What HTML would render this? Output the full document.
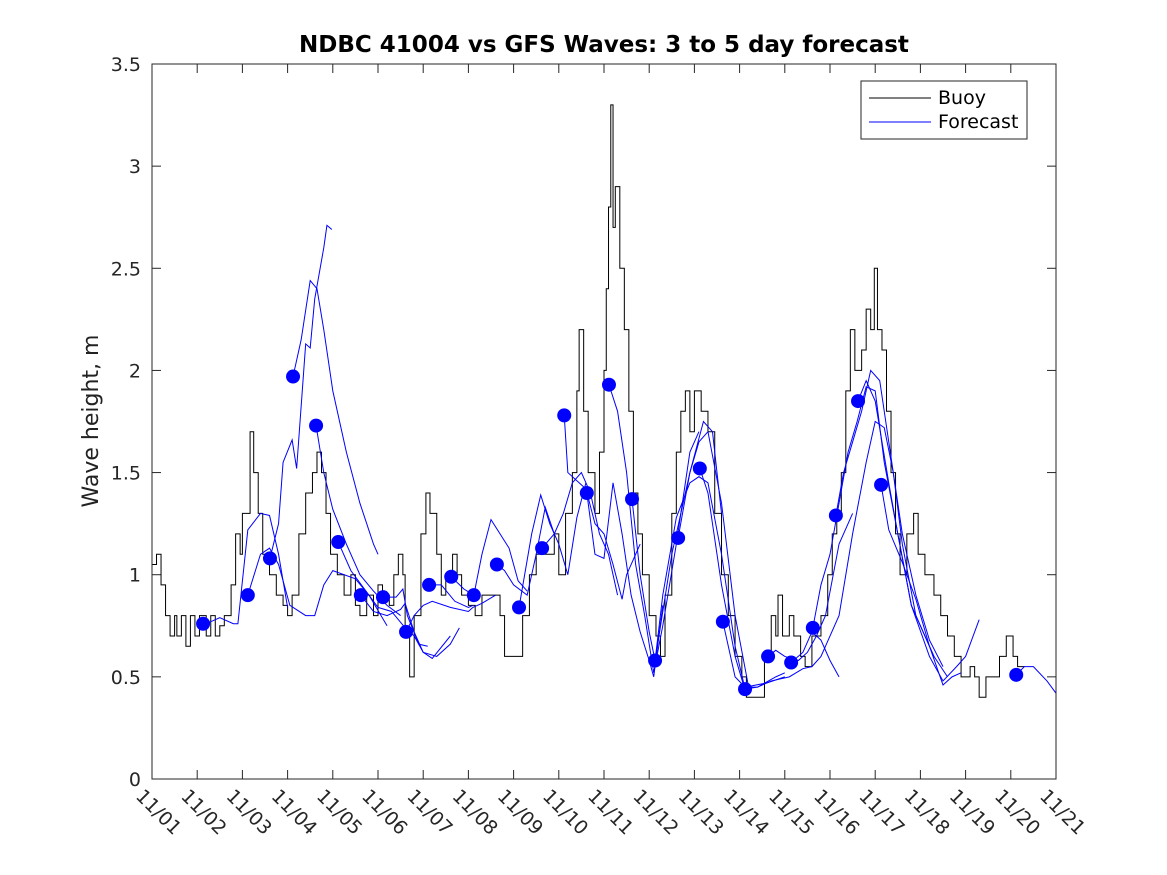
<!DOCTYPE html>
<html><head><meta charset="utf-8"><style>
html,body{margin:0;padding:0;background:#fff}
svg{display:block;font-family:"DejaVu Sans","Liberation Sans",sans-serif}
</style></head><body>
<svg id="chart" width="1167" height="875" viewBox="0 0 1167 875">
<rect x="0" y="0" width="1167" height="875" fill="#fff"/>
<text x="604" y="52" text-anchor="middle" font-size="23" font-weight="bold" fill="#000">NDBC 41004 vs GFS Waves: 3 to 5 day forecast</text>
<text transform="translate(98,421) rotate(-90)" text-anchor="middle" font-size="22" fill="#222">Wave height, m</text>
<g id="grid"></g>
<g id="series"></g>
<rect x="152" y="64" width="904" height="715" fill="none" stroke="#262626" stroke-width="1"/>
<g>
<rect x="861" y="81" width="166" height="58" fill="#fff" stroke="#262626"/>
<line x1="869" y1="98" x2="931" y2="98" stroke="#000"/>
<text x="938" y="104" font-size="19" fill="#000">Buoy</text>
<line x1="869" y1="122" x2="931" y2="122" stroke="#0000ff"/>
<text x="938" y="128" font-size="19" fill="#000">Forecast</text>
</g>
</svg>
<script>
const xTickLabels = ["11/01","11/02","11/03","11/04","11/05","11/06","11/07","11/08","11/09","11/10","11/11","11/12","11/13","11/14","11/15","11/16","11/17","11/18","11/19","11/20","11/21"];
const yTicks = [0,0.5,1,1.5,2,2.5,3,3.5];
const yTickLabels = ["0","0.5","1","1.5","2","2.5","3","3.5"];
const buoyDays = [0,0.1,0.2,0.3,0.4,0.5,0.55,0.65,0.75,0.85,0.95,1.05,1.2,1.3,1.4,1.5,1.6,1.75,1.85,1.95,2.0,2.1,2.17,2.25,2.35,2.45,2.6,2.75,2.9,3.0,3.1,3.25,3.4,3.55,3.65,3.75,3.85,3.95,4.1,4.25,4.4,4.5,4.6,4.75,4.9,5.0,5.1,5.25,5.35,5.45,5.55,5.6,5.7,5.8,5.95,6.06,6.15,6.3,6.4,6.5,6.65,6.75,6.85,7.0,7.15,7.3,7.5,7.7,7.8,8.0,8.2,8.35,8.5,8.7,8.9,9.0,9.15,9.3,9.4,9.45,9.55,9.65,9.8,9.9,10.0,10.05,10.1,10.15,10.2,10.25,10.35,10.45,10.55,10.65,10.75,10.85,11.0,11.15,11.25,11.35,11.5,11.6,11.7,11.8,11.9,12.0,12.15,12.3,12.45,12.6,12.75,12.9,13.05,13.15,13.4,13.55,13.7,13.8,13.85,13.95,14.1,14.2,14.35,14.45,14.6,14.8,14.95,15.05,15.15,15.25,15.35,15.45,15.55,15.7,15.8,15.9,15.98,16.05,16.15,16.25,16.35,16.45,16.55,16.7,16.85,16.95,17.1,17.3,17.45,17.6,17.75,17.9,18.1,18.2,18.3,18.45,18.6,18.75,18.9,19.05,19.15,19.3];
const buoyVals = [1.05,1.1,0.95,0.8,0.7,0.8,0.7,0.8,0.65,0.8,0.7,0.8,0.7,0.8,0.7,0.75,0.8,0.95,1.2,1.1,1.3,1.3,1.7,1.5,1.3,1.1,1.0,0.9,0.85,0.8,0.9,1.2,1.4,1.5,1.6,1.5,1.3,1.1,1.0,0.9,1.0,0.85,0.8,0.9,0.8,0.95,0.9,0.85,1.0,1.1,1.0,0.7,0.5,0.8,1.2,1.4,1.3,1.1,0.9,1.0,1.1,1.0,0.9,0.85,0.8,0.9,0.9,0.8,0.6,0.6,0.8,1.0,1.1,1.1,1.2,1.0,1.3,1.5,1.9,2.2,1.8,1.5,1.3,1.6,2.0,2.4,2.8,3.3,2.7,2.9,2.5,2.2,1.8,1.4,1.2,1.0,0.8,0.7,0.6,0.9,1.3,1.6,1.8,1.9,1.7,1.9,1.8,1.7,1.3,1.0,0.8,0.6,0.5,0.4,0.4,0.6,0.8,0.7,0.9,0.7,0.8,0.7,0.6,0.55,0.7,0.8,1.0,1.2,1.3,1.5,1.9,2.2,2.0,2.1,2.3,2.2,2.5,2.2,2.1,1.8,1.5,1.2,1.0,1.2,1.3,1.1,1.0,0.9,0.8,0.7,0.6,0.5,0.55,0.5,0.4,0.5,0.5,0.6,0.7,0.6,0.55,0.55];
const dotDays = [1.13,2.12,2.61,3.12,3.63,4.12,4.62,5.11,5.62,6.13,6.62,7.12,7.63,8.12,8.63,9.12,9.62,10.11,10.62,11.13,11.64,12.12,12.63,13.12,13.63,14.14,14.62,15.13,15.62,16.13,19.12];
const dotVals = [0.76,0.90,1.08,1.97,1.73,1.16,0.90,0.89,0.72,0.95,0.99,0.90,1.05,0.84,1.13,1.78,1.40,1.93,1.37,0.58,1.18,1.52,0.77,0.44,0.60,0.57,0.74,1.29,1.85,1.44,0.51];
const fcDays = [
 [1.13,1.3,1.5,1.8,1.9,2.12,2.4,2.6,2.8,3.0],
 [2.12,2.4,2.6,2.8,3.05,3.4,3.6,3.8,4.0,4.5,4.8,5.2],
 [2.61,2.8,2.9,3.1,3.2,3.4,3.5,3.6,3.8,3.87,3.98],
 [3.12,3.3,3.5,3.65,3.8,4.0,4.3,4.6,4.9,5.0],
 [3.63,3.8,4.0,4.3,4.6,4.9,5.2,5.5],
 [4.12,4.4,4.7,5.0,5.3,5.6,5.8,6.0,6.3,6.6,6.8],
 [4.62,4.9,5.2,5.5,5.6,5.8,6.0,6.2,6.6],
 [5.11,5.4,5.55,5.65,5.9,6.1],
 [5.62,5.8,6.0,6.2,6.6,7.0,7.1,7.3,7.6],
 [6.13,6.4,6.7,7.0,7.1],
 [6.62,6.9,7.12],
 [7.12,7.3,7.5,7.7,7.9,8.1,8.3],
 [7.63,7.8,8.0,8.3,8.5,8.7,8.9],
 [8.12,8.4,8.6,8.8,9.0,9.2,9.4,9.6],
 [8.63,8.9,9.1,9.3,9.5,9.7,9.9,10.1,10.3],
 [9.12,9.2,9.4,9.6,9.8,10.0,10.2,10.4,10.5,10.8],
 [9.62,9.8,10.0,10.2,10.4,10.6,10.8,11.0,11.1,11.3],
 [10.11,10.3,10.5,10.7,10.9,11.1,11.3,11.6,11.9,12.1],
 [10.62,10.8,11.0,11.13,11.5,11.9,12.2,12.4,12.6],
 [11.13,11.3,11.6,11.9,12.1,12.3,12.6,12.9,13.1],
 [11.64,11.9,12.1,12.3,12.6,12.9,13.2],
 [12.12,12.3,12.6,12.9,13.1,13.4,13.8,14.0],
 [12.63,12.9,13.12,13.6,14.0],
 [13.12,13.4,13.7,14.1,14.4,14.6],
 [13.63,13.8,14.0,14.3,14.5,14.7,14.9,15.2,15.5],
 [14.14,14.4,14.6,14.8,15.0,15.2],
 [14.62,14.8,15.0,15.2,15.4,15.6,15.8,16.0,16.2,16.5,16.8,17.0,17.3],
 [15.13,15.3,15.5,15.7,15.9,16.1,16.4,16.6,16.9,17.3,17.6],
 [15.62,15.8,16.0,16.3,16.5,16.8,17.2,17.5,17.8,18.0,18.3],
 [16.13,16.3,16.6,16.9,17.2,17.5,17.7,17.9],
 [14.6,14.8,15.2,15.5,15.8,16.0,16.2,16.4,16.6,16.9,17.2,17.5],
 [19.12,19.3,19.5,19.8,20.0]
];
const fcVals = [
 [0.76,0.77,0.79,0.76,0.76,1.22,1.30,1.29,1.10,0.84],
 [0.90,1.10,1.13,1.05,0.85,0.80,0.80,0.95,1.02,0.98,0.90,0.75],
 [1.08,1.25,1.55,1.66,1.52,2.13,2.11,2.35,2.60,2.71,2.69],
 [1.97,2.15,2.44,2.40,2.20,1.90,1.60,1.35,1.15,1.10],
 [1.73,1.50,1.32,1.15,1.00,0.92,0.85,0.80],
 [1.16,1.02,0.93,0.84,0.82,0.74,0.70,0.62,0.60,0.66,0.74],
 [0.90,0.82,0.80,0.83,0.86,0.72,0.62,0.59,0.70],
 [0.89,0.89,0.93,0.80,0.66,0.65],
 [0.72,0.80,0.85,0.87,0.84,0.82,0.84,0.86,0.90],
 [0.95,0.95,0.87,0.84,0.85],
 [0.99,0.93,0.90],
 [0.90,1.10,1.27,1.20,1.13,0.97,0.92],
 [1.05,1.02,0.95,0.90,1.10,1.33,1.20],
 [0.84,1.20,1.39,1.25,1.15,1.00,1.28,1.45],
 [1.13,1.20,1.30,1.45,1.50,1.40,1.20,1.10,0.90],
 [1.78,1.50,1.46,1.42,1.25,1.20,1.05,0.88,1.00,1.15],
 [1.40,1.10,1.08,1.45,1.20,0.90,0.72,0.58,0.50,0.85],
 [1.93,1.80,1.50,1.05,0.80,0.52,0.75,1.15,1.60,1.70],
 [1.37,1.00,0.72,0.58,1.10,1.50,1.75,1.70,1.30],
 [0.58,0.90,1.28,1.45,1.48,1.45,1.10,0.65,0.46],
 [1.18,1.50,1.65,1.70,1.35,0.80,0.45],
 [1.52,1.40,0.95,0.60,0.45,0.45,0.50,0.52],
 [0.77,0.50,0.45,0.47,0.50],
 [0.44,0.45,0.48,0.50,0.54,0.55],
 [0.60,0.63,0.60,0.58,0.62,0.70,0.80,1.15,1.30],
 [0.57,0.62,0.72,0.68,0.58,0.50],
 [0.74,0.95,1.10,1.35,1.60,1.75,1.92,1.90,1.55,1.20,0.85,0.75,0.60],
 [1.29,1.50,1.65,1.80,2.00,1.95,1.50,1.15,0.80,0.60,0.50],
 [1.85,1.95,1.85,1.45,1.20,0.85,0.60,0.48,0.55,0.60,0.78],
 [1.44,1.22,1.06,0.88,0.65,0.46,0.50,0.52],
 [0.55,0.60,0.80,1.20,1.55,1.75,1.72,1.50,1.20,0.90,0.68,0.55],
 [0.51,0.55,0.55,0.48,0.42]
];
const X0=152, X1=1056, Y0=779, Y1=64, DAYS=20, YMAX=3.5;
function xs(d){return X0+(X1-X0)*d/DAYS;}
function ys(v){return Y0-(Y0-Y1)*v/YMAX;}
const NS="http://www.w3.org/2000/svg";
const grid=document.getElementById('grid');
const series=document.getElementById('series');
function mk(tag,attrs,parent){const e=document.createElementNS(NS,tag);for(const k in attrs)e.setAttribute(k,attrs[k]);parent.appendChild(e);return e;}
xTickLabels.forEach((lab,i)=>{
  const x=xs(i);
  const t1=mk('line',{x1:x,y1:Y0,x2:x,y2:Y0-9,stroke:'#262626'},grid);
  
  
  const t2=mk('line',{x1:x,y1:Y1,x2:x,y2:Y1+9,stroke:'#262626'},grid);
  
  
  const tx=mk('text',{transform:`translate(${x-8},${788}) rotate(45)`,x:0,y:13,'font-size':19,fill:'#262626'},grid);
  tx.textContent=lab;
  
  
});
yTicks.forEach((v,i)=>{
  const y=ys(v);
  const t1=mk('line',{x1:X0,y1:y,x2:X0+9,y2:y,stroke:'#262626'},grid);
  
  
  const t2=mk('line',{x1:X1,y1:y,x2:X1-9,y2:y,stroke:'#262626'},grid);
  
  
  const tx=mk('text',{x:141,y:y+7,'text-anchor':'end','font-size':19,fill:'#262626'},grid);
  tx.textContent=yTickLabels[i];
  
  
});
let d='';
buoyDays.forEach((dd,i)=>{
  const x=xs(dd), y=ys(buoyVals[i]);
  if(i===0) d+=`M${x},${y}`; else d+=`H${x}V${y}`;
});
const bp=mk('path',{d:d,fill:'none',stroke:'#000','stroke-width':1},series);


fcDays.forEach((arr,j)=>{
  const pts=arr.map((dd,i)=>xs(dd)+','+ys(fcVals[j][i])).join(' ');
  const pl=mk('polyline',{points:pts,fill:'none',stroke:'#0000ff','stroke-width':1},series);
  
  
});
dotDays.forEach((dd,i)=>{
  const c=mk('circle',{cx:xs(dd),cy:ys(dotVals[i]),r:7,fill:'#0000ff'},series);
  
  
});
</script>
</body></html>
